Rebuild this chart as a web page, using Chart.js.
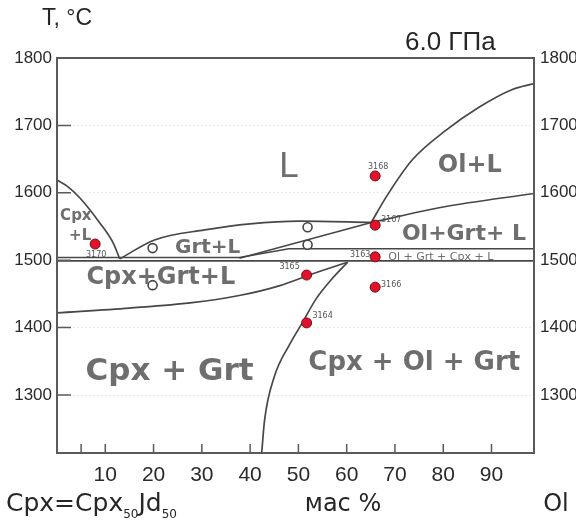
<!DOCTYPE html>
<html>
<head>
<meta charset="utf-8">
<script src="https://cdn.jsdelivr.net/npm/chart.js@4.4.1/dist/chart.umd.min.js"></script>
<style>
  html, body { margin: 0; padding: 0; background: #fff; }
  #wrap { width: 576px; height: 520px; }
</style>
</head>
<body>
<div id="wrap"><canvas id="myChart"></canvas></div>
<script>
// x = mass % Ol, T = temperature, C
const xTickLabels = [10, 20, 30, 40, 50, 60, 70, 80, 90];
const xTickMarks = [5, 10, 20, 30, 40, 50, 60, 70, 80, 90];
const yTickLabels = [1300, 1400, 1500, 1600, 1700, 1800];

// phase boundaries
const cpxLiqX = [0, 2.1, 4.8, 8.9, 11.6, 13.0];
const cpxLiqT = [1619, 1610, 1592, 1555, 1526, 1502];
const grtLiqX = [13.0, 20.2, 30.6, 40.0, 50.2, 65.1];
const grtLiqT = [1502, 1530, 1545, 1554, 1558, 1556];
const olLiqX = [65.1, 68.2, 73.6, 80.6, 87.4, 94.2, 98.8];
const olLiqT = [1556, 1594, 1649, 1693, 1727, 1753, 1762];
const olGrtX = [65.1, 80, 98.8];
const olGrtT = [1556, 1579, 1599];
const slopeX = [37.8, 65.1];
const slopeT = [1503, 1556];
const bandTopX = [0, 37.8, 48, 98.8];
const bandTopT = [1504, 1504, 1517, 1517];
const bandBotX = [0, 98.8];
const bandBotT = [1499, 1499];
const cpxGrtX = [0, 15, 28, 38, 46, 53, 60.2];
const cpxGrtT = [1422, 1429, 1437, 1448, 1462, 1480, 1497];
const cpxOlX = [42.4, 43.0, 45.0, 48.1, 50.8, 53.7, 56.8, 60.2];
const cpxOlT = [1214, 1263, 1327, 1374, 1407, 1443, 1471, 1497];

// experiments
const runIds = ["3170", "3168", "3167", "3163", "3166", "3165", "3164"];
const runX = [7.9, 65.9, 65.9, 65.9, 65.9, 51.7, 51.7];
const runT = [1524, 1625, 1552, 1505, 1460, 1478, 1407];
const openX = [19.8, 19.8, 51.9, 51.9];
const openT = [1518, 1463, 1549, 1523];

// field names
const fieldText = ["L", "Ol+L", "Ol+Grt+ L", "Grt+L", "Cpx+Grt+L", "Cpx + Grt", "Cpx + Ol + Grt", "Ol + Grt + Cpx + L", "Cpx", "+L"];
const fieldX = [47.9, 85.5, 84.3, 31.2, 21.5, 23.3, 74.0, 79.5, 3.9, 4.8];
const fieldT = [1623, 1631, 1530, 1511, 1465, 1322, 1337, 1501, 1560, 1530];
const fieldFont = [
  "34px 'DejaVu Sans'", "bold 24px 'DejaVu Sans'", "bold 22px 'DejaVu Sans'",
  "bold 20px 'DejaVu Sans'", "bold 24px 'DejaVu Sans'", "bold 31px 'DejaVu Sans'",
  "bold 26px 'DejaVu Sans'", "11px 'DejaVu Sans'", "bold 15px 'DejaVu Sans'",
  "bold 15px 'DejaVu Sans'",
];
const runLabelOffset = [[1, 11], [3, -9], [16, -5], [-15, -2], [16, -2], [-17, -8], [16, -7]];

function pts(xs, ys) {
  return xs.map((v, i) => ({ x: v, y: ys[i] }));
}

function curve(xs, ys, tension) {
  return {
    type: "line",
    data: pts(xs, ys),
    borderColor: "#474747",
    borderWidth: 1.7,
    pointRadius: 0,
    tension: tension,
    cubicInterpolationMode: tension ? "monotone" : "default",
    order: 2,
  };
}

const decor = {
  id: "decor",
  afterDatasetsDraw(chart) {
    const ctx = chart.ctx;
    const a = chart.chartArea;
    const xs = chart.scales.x, ys = chart.scales.y;
    ctx.save();
    // frame
    ctx.strokeStyle = "#5a5a5a";
    ctx.lineWidth = 2;
    ctx.strokeRect(a.left, a.top, a.right - a.left, a.bottom - a.top);
    // inward ticks
    ctx.lineWidth = 1.5;
    ctx.beginPath();
    xTickMarks.forEach((v) => {
      const px = xs.getPixelForValue(v);
      ctx.moveTo(px, a.bottom);
      ctx.lineTo(px, a.bottom - 9);
    });
    yTickLabels.slice(0, -1).forEach((v) => {
      const py = ys.getPixelForValue(v);
      ctx.moveTo(a.left, py);
      ctx.lineTo(a.left + 14, py);
    });
    ctx.stroke();
    // field names
    ctx.fillStyle = "#6e6e6e";
    ctx.textAlign = "center";
    ctx.textBaseline = "alphabetic";
    fieldText.forEach((t, i) => {
      ctx.font = fieldFont[i];
      ctx.fillText(t, xs.getPixelForValue(fieldX[i]), ys.getPixelForValue(fieldT[i]));
    });
    // run numbers
    ctx.font = "8px 'DejaVu Sans'";
    ctx.fillStyle = "#555";
    ctx.textBaseline = "middle";
    runIds.forEach((t, i) => {
      const px = xs.getPixelForValue(runX[i]) + runLabelOffset[i][0];
      const py = ys.getPixelForValue(runT[i]) + runLabelOffset[i][1];
      ctx.fillText(t, px, py);
    });
    ctx.restore();
  },
  afterDraw(chart) {
    const ctx = chart.ctx;
    ctx.save();
    ctx.fillStyle = "#262626";
    ctx.textBaseline = "alphabetic";
    ctx.textAlign = "left";
    ctx.font = "23px 'Liberation Sans', Arial";
    ctx.fillText("T, °C", 42, 25);
    ctx.font = "26px 'Liberation Sans', Arial";
    ctx.fillText("6.0 ГПа", 405, 50);
    // bottom captions
    let x = 6;
    ctx.font = "25px 'DejaVu Sans'";
    ctx.fillText("Cpx=Cpx", x, 511);
    x += ctx.measureText("Cpx=Cpx").width;
    ctx.font = "12px 'DejaVu Sans'";
    ctx.fillText("50", x, 518);
    x += ctx.measureText("50").width;
    ctx.font = "25px 'DejaVu Sans'";
    ctx.fillText("Jd", x, 511);
    x += ctx.measureText("Jd").width;
    ctx.font = "12px 'DejaVu Sans'";
    ctx.fillText("50", x, 518);
    ctx.font = "24px 'DejaVu Sans'";
    ctx.textAlign = "center";
    ctx.fillText("мас %", 343, 511);
    ctx.fillText("Ol", 556, 511);
    ctx.restore();
  },
};

const tickFont = { family: "'Liberation Sans', Arial", size: 17 };
const plain = (v) => String(v);

var ctx = document.getElementById("myChart").getContext("2d");
var chart = new Chart(ctx, {
  type: "line",
  data: {
    datasets: [
      {
        type: "scatter",
        data: pts(runX, runT),
        backgroundColor: "#e3122c",
        borderColor: "#7a0d12",
        borderWidth: 1,
        pointRadius: 5,
        order: 0,
      },
      {
        type: "scatter",
        data: pts(openX, openT),
        backgroundColor: "#ffffff",
        borderColor: "#444",
        borderWidth: 1.6,
        pointRadius: 4.5,
        order: 1,
      },
      curve(cpxLiqX, cpxLiqT, 0.4),
      curve(grtLiqX, grtLiqT, 0.4),
      curve(olLiqX, olLiqT, 0.4),
      curve(olGrtX, olGrtT, 0.4),
      curve(slopeX, slopeT, 0),
      curve(bandTopX, bandTopT, 0),
      curve(bandBotX, bandBotT, 0),
      curve(cpxGrtX, cpxGrtT, 0.4),
      curve(cpxOlX, cpxOlT, 0.4),
    ],
  },
  options: {
    animation: false,
    responsive: true,
    maintainAspectRatio: false,
    layout: { padding: { top: 58, left: 0, right: 0, bottom: 0 } },
    plugins: { legend: { display: false }, tooltip: { enabled: false } },
    scales: {
      x: {
        type: "linear",
        min: 0,
        max: 98.8,
        grid: { display: false, drawTicks: false },
        border: { display: false },
        afterBuildTicks: (s) => { s.ticks = xTickLabels.map((v) => ({ value: v })); },
        afterFit: (s) => { s.height = 67; },
        ticks: { color: "#2a2a2a", padding: 10, callback: plain, font: { family: "'Liberation Sans', Arial", size: 21 } },
      },
      y: {
        type: "linear",
        position: "left",
        min: 1214,
        max: 1800,
        grid: { color: "rgba(0,0,0,0.09)", drawTicks: false, lineWidth: 1 },
        border: { display: false, dash: [2, 2] },
        afterBuildTicks: (s) => { s.ticks = yTickLabels.map((v) => ({ value: v })); },
        afterFit: (s) => { s.width = 57; },
        ticks: { color: "#2a2a2a", padding: 5, callback: plain, font: tickFont },
      },
      y2: {
        type: "linear",
        position: "right",
        min: 1214,
        max: 1800,
        grid: { display: false, drawTicks: false },
        border: { display: false },
        afterBuildTicks: (s) => { s.ticks = yTickLabels.map((v) => ({ value: v })); },
        afterFit: (s) => { s.width = 42; },
        ticks: { color: "#2a2a2a", padding: 6, callback: plain, font: tickFont },
      },
    },
  },
  plugins: [decor],
});
</script>
</body>
</html>
